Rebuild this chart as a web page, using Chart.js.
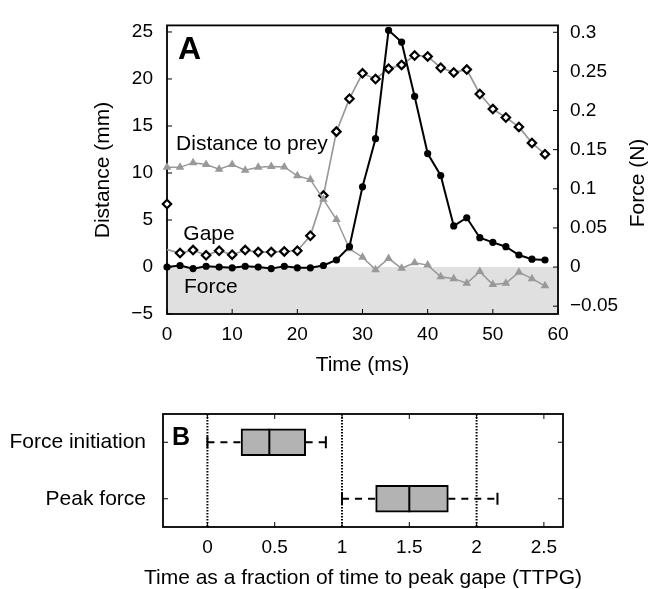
<!DOCTYPE html>
<html>
<head>
<meta charset="utf-8">
<script src="https://cdn.jsdelivr.net/npm/chart.js@4"></script>
<style>
  html, body { margin: 0; padding: 0; background: #fff; }
  #wrap { position: relative; width: 650px; height: 589px; }
  #chartA { position: absolute; left: 0; top: 0; }
  #chartB { position: absolute; left: 0; top: 380px; }
</style>
</head>
<body>
<div id="wrap">
  <canvas id="chartA" width="650" height="380"></canvas>
  <canvas id="chartB" width="650" height="209"></canvas>
</div>
<script>
// ---- panel A data ----
const times = [0, 2, 4, 6, 8, 10, 12, 14, 16, 18, 20, 22, 24, 26, 28,
               30, 32, 34, 36, 38, 40, 42, 44, 46, 48, 50, 52, 54, 56, 58];
const gape = [1.85, 1.48, 1.80, 1.24, 1.73, 1.31, 1.80, 1.59, 1.59, 1.66, 1.73, 3.32, 7.6, 14.4, 17.9,
              20.6, 20.0, 21.1, 21.5, 22.5, 22.4, 21.2, 20.7, 21.0, 18.4, 16.8, 15.9, 14.9, 13.2, 12.0];
const gapeStart = 6.7; // lone marker at t = 0
const distance = [10.6, 10.6, 11.1, 10.9, 10.4, 10.9, 10.3, 10.6, 10.7, 10.65, 9.7, 9.3, 7.2, 5.05, 1.94,
                  1.04, -0.28, 0.9, -0.14, 0.45, 0.2, -1.04, -1.24, -1.73, -0.49, -1.87, -1.73, -0.55, -1.24, -2.0];
const force = [0.000, 0.002, -0.002, 0.001, 0.000, -0.001, 0.001, 0.000, -0.002, 0.001, -0.001, -0.001, 0.002, 0.009, 0.026,
               0.1025, 0.164, 0.3025, 0.2875, 0.218, 0.145, 0.117, 0.0525, 0.063, 0.0375, 0.0316, 0.026, 0.0154, 0.010, 0.009];
const timeTicks = [0, 10, 20, 30, 40, 50, 60];
const distTicks = [-5, 0, 5, 10, 15, 20, 25];
const forceTicks = [-0.05, 0, 0.05, 0.1, 0.15, 0.2, 0.25, 0.3];

// ---- panel B data ----
const stages = ["Force initiation", "Peak force"];
const whiskerLo = [0.0, 1.0];
const q1 = [0.25, 1.25];
const median = [0.46, 1.50];
const q3 = [0.73, 1.79];
const whiskerHi = [0.88, 2.155];
const ttpgTicks = [0, 0.5, 1, 1.5, 2, 2.5];
const refLines = [0, 1, 2];

const FONT = '"Liberation Sans", Arial, Helvetica, sans-serif';
Chart.defaults.font.family = FONT;
Chart.defaults.color = "#000";

const pts = vals => vals.map((v, i) => ({ x: times[i], y: v }));
const fmt = v => String(+v.toFixed(2)).replace("-", "\u2212");

function innerTicks(ctx, scale, area, side, len) {
  scale.ticks.forEach(t => {
    const p = scale.getPixelForValue(t.value);
    ctx.beginPath();
    if (side === "bottom") { ctx.moveTo(p, area.bottom); ctx.lineTo(p, area.bottom - len); }
    if (side === "top") { ctx.moveTo(p, area.top); ctx.lineTo(p, area.top + len); }
    if (side === "left") { ctx.moveTo(area.left, p); ctx.lineTo(area.left + len, p); }
    if (side === "right") { ctx.moveTo(area.right, p); ctx.lineTo(area.right - len, p); }
    ctx.stroke();
  });
}

function vtext(ctx, str, x, y) {
  ctx.save();
  ctx.translate(x, y);
  ctx.rotate(-Math.PI / 2);
  ctx.textAlign = "center";
  ctx.textBaseline = "middle";
  ctx.fillText(str, 0, 0);
  ctx.restore();
}

const panelA = {
  id: "panelA",
  beforeDatasetsDraw(chart) {
    const { ctx, chartArea: a, scales } = chart;
    const y0 = scales.yD.getPixelForValue(0);
    ctx.save();
    ctx.fillStyle = "#e0e0e0";
    ctx.fillRect(a.left, y0, a.right - a.left, a.bottom - y0);
    ctx.strokeStyle = "#000";
    ctx.lineWidth = 1.8;
    ctx.strokeRect(a.left, a.top, a.right - a.left, a.bottom - a.top);
    ctx.lineWidth = 1;
    innerTicks(ctx, scales.x, a, "bottom", 5);
    innerTicks(ctx, scales.yD, a, "left", 5);
    innerTicks(ctx, scales.yF, a, "right", 5);
    ctx.restore();
  },
  afterDatasetsDraw(chart) {
    const { ctx, chartArea: a, scales } = chart;
    const x = scales.x, y = scales.yD;
    ctx.save();
    ctx.fillStyle = "#000";
    ctx.textBaseline = "alphabetic";
    ctx.textAlign = "left";
    ctx.font = "bold 32px " + FONT;
    ctx.fillText("A", a.left + 11, a.top + 34);
    ctx.font = "21px " + FONT;
    ctx.fillText("Distance to prey", x.getPixelForValue(1.4), y.getPixelForValue(12.45));
    ctx.fillText("Gape", x.getPixelForValue(2.5), y.getPixelForValue(2.9));
    ctx.fillText("Force", x.getPixelForValue(2.6), y.getPixelForValue(-2.8));
    ctx.textAlign = "center";
    ctx.fillText("Time (ms)", (a.left + a.right) / 2, 371);
    vtext(ctx, "Distance (mm)", 103, 170);
    vtext(ctx, "Force (N)", 638, 183);
    ctx.restore();
  }
};

new Chart(document.getElementById("chartA"), {
  type: "line",
  data: {
    datasets: [
      {
        label: "Force",
        data: pts(force),
        yAxisID: "yF",
        borderColor: "#000",
        borderWidth: 2,
        pointRadius: 3.6,
        pointBackgroundColor: "#000",
        pointBorderWidth: 0,
        order: 1
      },
      {
        label: "Distance to prey",
        data: pts(distance),
        yAxisID: "yD",
        borderColor: "#999",
        borderWidth: 1.5,
        pointStyle: "triangle",
        pointRadius: 5,
        pointBackgroundColor: "#999",
        pointBorderWidth: 0,
        order: 2
      },
      {
        label: "Gape",
        data: pts(gape),
        yAxisID: "yD",
        borderColor: "#999",
        borderWidth: 1.7,
        pointStyle: "rectRot",
        pointRadius: gape.map((_, i) => (i === 0 ? 0 : 4.2)),
        pointBackgroundColor: "#fff",
        pointBorderColor: "#000",
        pointBorderWidth: 2.2,
        order: 3
      },
      {
        label: "Gape start",
        data: [{ x: times[0], y: gapeStart }],
        yAxisID: "yD",
        showLine: false,
        pointStyle: "rectRot",
        pointRadius: 4.2,
        pointBackgroundColor: "#fff",
        pointBorderColor: "#000",
        pointBorderWidth: 2.2,
        order: 3
      }
    ]
  },
  options: {
    responsive: false,
    animation: false,
    clip: false,
    layout: { padding: { top: 19, left: 0, right: 0, bottom: 0 } },
    plugins: { legend: { display: false }, tooltip: { enabled: false } },
    elements: { line: { tension: 0 } },
    scales: {
      x: {
        type: "linear",
        min: 0, max: 60,
        afterBuildTicks: s => { s.ticks = timeTicks.map(v => ({ value: v })); },
        afterFit: s => { s.height = 66; },
        grid: { display: false, drawTicks: false },
        border: { display: false },
        ticks: { font: { size: 19 }, padding: 9, maxRotation: 0 }
      },
      yD: {
        type: "linear",
        position: "left",
        min: -5, max: 25.7,
        afterBuildTicks: s => { s.ticks = distTicks.map(v => ({ value: v })); },
        afterFit: s => { s.width = 167; },
        grid: { display: false, drawTicks: false },
        border: { display: false },
        ticks: { font: { size: 19 }, padding: 14, callback: fmt }
      },
      yF: {
        type: "linear",
        position: "right",
        min: -0.06, max: 0.3088,
        afterBuildTicks: s => { s.ticks = forceTicks.map(v => ({ value: v })); },
        afterFit: s => { s.width = 92; },
        grid: { display: false, drawTicks: false },
        border: { display: false },
        ticks: { font: { size: 19 }, padding: 12, callback: fmt }
      }
    }
  },
  plugins: [panelA]
});

// ---- panel B: box plot from floating bars + whiskers ----
const BOX_H = 27;

const panelB = {
  id: "panelB",
  beforeDatasetsDraw(chart) {
    const { ctx, chartArea: a, scales } = chart;
    ctx.save();
    ctx.strokeStyle = "#000";
    ctx.lineWidth = 2;
    ctx.setLineDash([1.5, 1.5]);
    refLines.forEach(v => {
      const p = scales.x.getPixelForValue(v);
      ctx.beginPath();
      ctx.moveTo(p, a.top);
      ctx.lineTo(p, a.bottom);
      ctx.stroke();
    });
    ctx.restore();
  },
  afterDatasetsDraw(chart) {
    const { ctx, chartArea: a, scales } = chart;
    const x = scales.x, y = scales.y;
    ctx.save();
    ctx.strokeStyle = "#000";
    ctx.lineWidth = 2;
    stages.forEach((_, i) => {
      const py = y.getPixelForValue(i);
      // dashed whiskers
      ctx.setLineDash([7, 6]);
      ctx.beginPath();
      ctx.moveTo(x.getPixelForValue(whiskerLo[i]), py);
      ctx.lineTo(x.getPixelForValue(q1[i]), py);
      ctx.moveTo(x.getPixelForValue(q3[i]), py);
      ctx.lineTo(x.getPixelForValue(whiskerHi[i]), py);
      ctx.stroke();
      ctx.setLineDash([]);
      // caps
      [whiskerLo[i], whiskerHi[i]].forEach(v => {
        const px = x.getPixelForValue(v);
        ctx.beginPath();
        ctx.moveTo(px, py - 6);
        ctx.lineTo(px, py + 6);
        ctx.stroke();
      });
      // median
      const pm = x.getPixelForValue(median[i]);
      ctx.beginPath();
      ctx.moveTo(pm, py - BOX_H / 2);
      ctx.lineTo(pm, py + BOX_H / 2);
      ctx.stroke();
    });
    // frame and inward ticks
    ctx.lineWidth = 1.8;
    ctx.strokeRect(a.left, a.top, a.right - a.left, a.bottom - a.top);
    ctx.lineWidth = 1;
    innerTicks(ctx, x, a, "bottom", 5);
    innerTicks(ctx, x, a, "top", 5);
    innerTicks(ctx, y, a, "left", 5);
    innerTicks(ctx, y, a, "right", 5);
    ctx.fillStyle = "#000";
    ctx.textAlign = "left";
    ctx.textBaseline = "alphabetic";
    ctx.font = "bold 25px " + FONT;
    ctx.fillText("B", a.left + 9, a.top + 31);
    ctx.font = "21px " + FONT;
    ctx.textAlign = "center";
    ctx.fillText("Time as a fraction of time to peak gape (TTPG)", (a.left + a.right) / 2, 204);
    ctx.restore();
  }
};

new Chart(document.getElementById("chartB"), {
  type: "bar",
  data: {
    labels: stages,
    datasets: [{
      data: stages.map((_, i) => [q1[i], q3[i]]),
      backgroundColor: "#b3b3b3",
      borderColor: "#000",
      borderWidth: 2,
      borderSkipped: false,
      barThickness: BOX_H
    }]
  },
  options: {
    indexAxis: "y",
    responsive: false,
    animation: false,
    layout: { padding: { top: 34, left: 0, right: 87, bottom: 0 } },
    plugins: { legend: { display: false }, tooltip: { enabled: false } },
    scales: {
      x: {
        type: "linear",
        min: -0.33, max: 2.642,
        afterBuildTicks: s => { s.ticks = ttpgTicks.map(v => ({ value: v })); },
        afterFit: s => { s.height = 62; },
        grid: { display: false, drawTicks: false },
        border: { display: false },
        ticks: { font: { size: 19 }, padding: 9, maxRotation: 0, callback: fmt }
      },
      y: {
        type: "category",
        offset: true,
        afterFit: s => { s.width = 163; },
        grid: { display: false, drawTicks: false },
        border: { display: false },
        ticks: { font: { size: 21 }, padding: 17 }
      }
    }
  },
  plugins: [panelB]
});
</script>
</body>
</html>
